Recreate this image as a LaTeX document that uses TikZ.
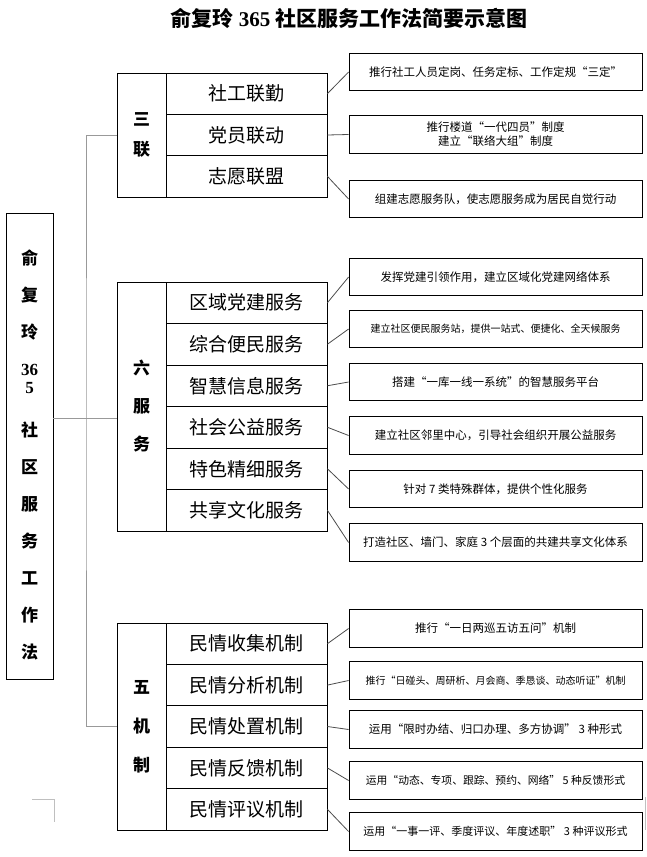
\documentclass[tikz,border=0pt]{standalone}
\usepackage{fontspec}
\setmainfont{Liberation Serif}
\newfontfamily\cjk{Noto Sans CJK SC}

\begin{document}
\begin{tikzpicture}[x=1pt, y=-1pt,
  box/.style={draw, line width=0.8pt, inner sep=0pt},
  rowbox/.style={box, minimum width=161pt, minimum height=41.4pt,
    font=\cjk\fontsize{19}{19}\selectfont},
  grpbox/.style={box, minimum width=49pt, align=center,
    font=\cjk\bfseries\fontsize{17}{#1}\selectfont},
  notebox/.style={box, minimum width=293pt, minimum height=37.5pt,
    align=center, font=\cjk\fontsize{11.5}{14}\selectfont},
  link/.style={draw=gray!60!black, line width=0.8pt},
  trunk/.style={draw=gray!80, line width=1pt}]

\useasboundingbox (0,0) rectangle (646,857);

% --- Title ---
\node[font=\cjk\bfseries\fontsize{21}{21}\selectfont] (title) at (349,18)
  {俞复玲 {\rmfamily\bfseries 365} 社区服务工作法简要示意图};

% --- Main box ---
\node[box, minimum width=47pt, minimum height=466pt, align=center,
  font=\cjk\bfseries\fontsize{17}{37}\selectfont] (main) at (29.5,446)
  {\mbox{}\\[-4pt]俞\\复\\玲\\{\rmfamily 36}\\[-19pt]{\rmfamily 5}\\[6pt]社\\区\\服\\务\\工\\作\\法};

% --- Three links ---
\node[grpbox=30, minimum height=124pt] (sanlian) at (141.5,135) {三\\联};
\foreach \txt [count=\i] in {社工联勤,党员联动,志愿联盟}
  \node[rowbox, minimum height=41.33pt] (sl\i) at (246.5,{73+41.33*(\i-0.5)}) {\txt};

\node[notebox] (nsl1) at (495.5,72) {推行社工人员定岗、任务定标、工作定规“三定”};
\node[notebox] (nsl2) at (495.5,134.5) {推行楼道“一代四员”制度\\建立“联络大组”制度};
\node[notebox] (nsl3) at (495.5,199) {组建志愿服务队，使志愿服务成为居民自觉行动};

\foreach \i in {1,2,3}
  \draw[link] (sl\i.east) -- (nsl\i.west);

% --- Six services ---
\node[grpbox=38, minimum height=249pt] (liufw) at (141.5,406.5) {六\\服\\务};
\foreach \txt [count=\i] in {区域党建服务,综合便民服务,智慧信息服务,社会公益服务,特色精细服务,共享文化服务}
  \node[rowbox, minimum height=41.5pt] (fw\i) at (246.5,{282+41.5*(\i-0.5)}) {\txt};

\node[notebox] (nfw1) at (495.5,277) {发挥党建引领作用，建立区域化党建网络体系};
\node[notebox, font=\cjk\fontsize{10}{12}\selectfont] (nfw2) at (495.5,329)
  {建立社区便民服务站，提供一站式、便捷化、全天候服务};
\node[notebox] (nfw3) at (495.5,382) {搭建“一库一线一系统”的智慧服务平台};
\node[notebox] (nfw4) at (495.5,435.5) {建立社区邻里中心，引导社会组织开展公益服务};
\node[notebox] (nfw5) at (495.5,489) {针对 7 类特殊群体，提供个性化服务};
\node[notebox] (nfw6) at (495.5,542.5) {打造社区、墙门、家庭 3 个层面的共建共享文化体系};

\foreach \i in {1,...,6}
  \draw[link] (fw\i.east) -- (nfw\i.west);

% --- Five mechanisms ---
\node[grpbox=39, minimum height=207pt] (wujz) at (141.5,726.5) {五\\机\\制};
\foreach \txt [count=\i] in {民情收集机制,民情分析机制,民情处置机制,民情反馈机制,民情评议机制}
  \node[rowbox, minimum height=41.4pt] (jz\i) at (246.5,{623+41.4*(\i-0.5)}) {\txt};

\node[notebox] (njz1) at (495.5,628.5) {推行“一日两巡五访五问”机制};
\node[notebox, font=\cjk\fontsize{10}{12}\selectfont] (njz2) at (495.5,680.5)
  {推行“日碰头、周研析、月会商、季恳谈、动态听证”机制};
\node[notebox] (njz3) at (495.5,729.5) {运用“限时办结、归口办理、多方协调” 3 种形式};
\node[notebox, font=\cjk\fontsize{10.8}{13}\selectfont] (njz4) at (495.5,780.5)
  {运用“动态、专项、跟踪、预约、网络” 5 种反馈形式};
\node[notebox, font=\cjk\fontsize{11}{13}\selectfont] (njz5) at (495.5,831.5)
  {运用“一事一评、季度评议、年度述职” 3 种评议形式};

\foreach \i in {1,...,5}
  \draw[link] (jz\i.east) -- (njz\i.west);

% --- Trunk ---
\coordinate (jn) at (86,418);
\draw[trunk] (sanlian.west) -| (jn) |- (wujz.west);
\draw[trunk] (main.east |- jn) -- (liufw.west |- jn);

% Corner marks
\draw[gray!50] (32,799) -| (54,822);
\draw[gray!50] (645,797) -- (645,830);

\end{tikzpicture}
\end{document}
